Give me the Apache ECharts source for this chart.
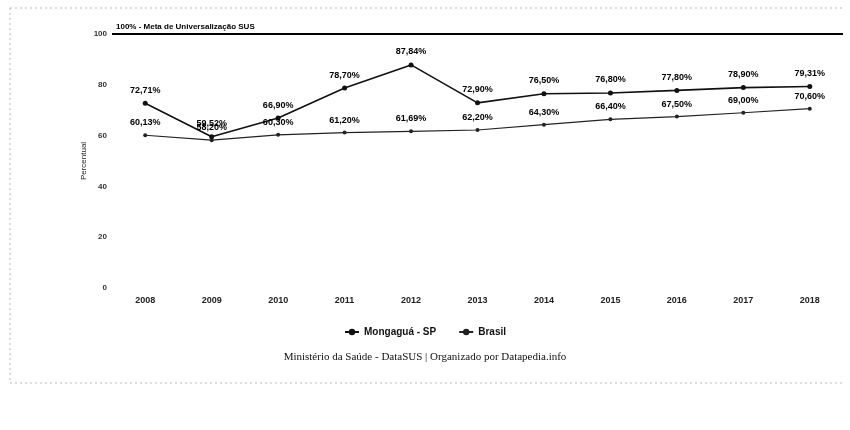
<!DOCTYPE html>
<html>
<head>
<meta charset="utf-8">
<script src="https://cdn.jsdelivr.net/npm/echarts@6/dist/echarts.min.js"></script>
<style>
    html, body { margin: 0; padding: 0; background: #fff; }
    #chart { width: 850px; height: 430px; }
</style>
</head>
<body>
<div id="chart"></div>
<script>
const anos = ["2008", "2009", "2010", "2011", "2012", "2013", "2014", "2015", "2016", "2017", "2018"];
const mongagua = [72.71, 59.52, 66.9, 78.7, 87.84, 72.9, 76.5, 76.8, 77.8, 78.9, 79.31];
const brasil = [60.13, 58.2, 60.3, 61.2, 61.69, 62.2, 64.3, 66.4, 67.5, 69.0, 70.6];
const yTicks = [0, 20, 40, 60, 80, 100];
const meta = 100;

const fmt = v => v.toFixed(2).replace(".", ",") + "%";

let myChart = echarts.init(document.getElementById("chart"));
let option = {
    animation: false,
    textStyle: { fontFamily: "Liberation Sans" },
    grid: { left: 112, right: 7, top: 34, bottom: 142 },
    legend: {
        bottom: 88,
        left: "center",
        itemWidth: 14,
        itemHeight: 8,
        itemGap: 22,
        textStyle: { color: "#111", fontWeight: "bold", fontSize: 10 },
        data: ["Mongaguá - SP", "Brasil"]
    },
    xAxis: {
        type: "category",
        data: anos,
        axisLine: { show: false },
        axisTick: { show: false },
        axisLabel: { color: "#222", fontSize: 9, fontWeight: "bold", margin: 8 }
    },
    yAxis: {
        type: "value",
        min: yTicks[0],
        max: yTicks[yTicks.length - 1],
        interval: 20,
        name: "Percentual",
        nameLocation: "middle",
        nameGap: 24,
        nameMoveOverlap: false,
        nameTextStyle: { color: "#222", fontSize: 8 },
        splitLine: { show: false },
        axisLabel: { color: "#333", fontSize: 8, fontWeight: "bold", margin: 5 }
    },
    series: [
        {
            name: "Mongaguá - SP",
            type: "line",
            data: mongagua,
            symbol: "circle",
            symbolSize: 5,
            lineStyle: { color: "#111", width: 1.6 },
            itemStyle: { color: "#111" },
            label: {
                show: true,
                position: "top",
                distance: 6,
                color: "#000",
                fontSize: 9,
                fontWeight: "bold",
                formatter: p => fmt(p.value)
            },
            markLine: {
                silent: true,
                symbol: "none",
                lineStyle: { color: "#000", width: 2, type: "solid" },
                label: {
                    show: true,
                    position: "insideStartTop",
                    formatter: "100% - Meta de Universalização SUS",
                    color: "#000",
                    fontSize: 8,
                    fontWeight: "bold",
                    distance: [4, 3]
                },
                data: [{ yAxis: meta }]
            }
        },
        {
            name: "Brasil",
            type: "line",
            data: brasil,
            symbol: "circle",
            symbolSize: 4,
            lineStyle: { color: "#222", width: 1.2 },
            itemStyle: { color: "#222" },
            label: {
                show: true,
                position: "top",
                distance: 6,
                color: "#000",
                fontSize: 9,
                fontWeight: "bold",
                formatter: p => fmt(p.value)
            }
        }
    ],
    graphic: [
        {
            type: "text",
            left: "center",
            top: 352,
            style: {
                text: "Ministério da Saúde - DataSUS | Organizado por Datapedia.info",
                fill: "#111",
                font: "11px 'Liberation Serif'"
            }
        },
        {
            type: "line",
            shape: { x1: 10, y1: 8, x2: 845, y2: 8 },
            style: { stroke: "#bbb", lineWidth: 1, lineDash: [2, 3] }
        },
        {
            type: "line",
            shape: { x1: 10, y1: 383, x2: 845, y2: 383 },
            style: { stroke: "#bbb", lineWidth: 1, lineDash: [2, 3] }
        },
        {
            type: "line",
            shape: { x1: 10, y1: 8, x2: 10, y2: 383 },
            style: { stroke: "#bbb", lineWidth: 1, lineDash: [2, 3] }
        }
    ]
};

myChart.setOption(option);
</script>
</body>
</html>
